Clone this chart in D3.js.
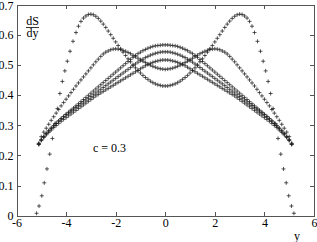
<!DOCTYPE html>
<html>
<head>
<meta charset="utf-8">
<script src="https://cdn.jsdelivr.net/npm/d3@7"></script>
<style>
  body { margin: 0; background: #fff; }
  svg { display: block; }
  text { font-family: "Liberation Serif", "Times New Roman", serif; font-size: 12px; fill: #000; }
</style>
</head>
<body>
<svg width="317" height="242"></svg>
<script>
var svg = d3.select("svg");

// Data (y, dS/dy), c = 0.3

// the curve with the high side peaks that drops to zero at the edges
var yA = [-5.19,-5.09,-4.98,-4.88,-4.77,-4.66,-4.55,-4.45,-4.35,-4.25,-4.15,-4.05,-3.95,-3.84,-3.72,-3.6,
          -3.5,-3.4,-3.3,-3.2,-3.1,-3.0,-2.9,-2.8,-2.7,-2.6,-2.5,-2.4,-2.3,-2.2,-2.1,-2.0,
          -1.9,-1.8,-1.7,-1.6,-1.5,-1.4,-1.3,-1.2,-1.1,-1.0,-0.9,-0.8,-0.7,-0.6,-0.5,-0.4,-0.3,-0.2,-0.1,
          0,
          0.1,0.2,0.3,0.4,0.5,0.6,0.7,0.8,0.9,1.0,1.1,1.2,1.3,1.4,1.5,1.6,1.7,1.8,1.9,
          2.0,2.1,2.2,2.3,2.4,2.5,2.6,2.7,2.8,2.9,3.0,3.1,3.2,3.3,3.4,3.5,
          3.6,3.72,3.84,3.95,4.05,4.15,4.25,4.35,4.45,4.55,4.66,4.77,4.88,4.98,5.09,5.19];
var sA = [0.008,0.032,0.066,0.109,0.155,0.204,0.256,0.305,0.355,0.405,0.445,0.480,0.512,0.545,0.578,0.607,
          0.628,0.644,0.655,0.662,0.667,0.668,0.666,0.661,0.654,0.645,0.635,0.624,0.612,0.600,0.588,0.576,
          0.564,0.553,0.542,0.531,0.520,0.510,0.500,0.490,0.481,0.473,0.465,0.458,0.452,0.446,0.441,0.437,0.434,0.432,0.430,
          0.430,
          0.430,0.432,0.434,0.437,0.441,0.446,0.452,0.458,0.465,0.473,0.481,0.490,0.500,0.510,0.520,0.531,0.542,0.553,0.564,
          0.576,0.588,0.600,0.612,0.624,0.635,0.645,0.654,0.661,0.666,0.668,0.667,0.662,0.655,0.644,0.628,
          0.607,0.578,0.545,0.512,0.480,0.445,0.405,0.355,0.305,0.256,0.204,0.155,0.109,0.066,0.032,0.008];

// the other four curves share one set of y positions
var yGrid = [-5.1,-5.0,-4.9,-4.8,-4.7,-4.6,-4.5,-4.4,-4.3,-4.2,-4.1,-4.0,-3.9,-3.8,-3.7,-3.6,-3.5,
             -3.4,-3.3,-3.2,-3.1,-3.0,-2.9,-2.8,-2.7,-2.6,-2.5,-2.4,-2.3,-2.2,-2.1,-2.0,-1.9,-1.8,
             -1.7,-1.6,-1.5,-1.4,-1.3,-1.2,-1.1,-1.0,-0.9,-0.8,-0.7,-0.6,-0.5,-0.4,-0.3,-0.2,-0.1,
             0,
             0.1,0.2,0.3,0.4,0.5,0.6,0.7,0.8,0.9,1.0,1.1,1.2,1.3,1.4,1.5,1.6,1.7,
             1.8,1.9,2.0,2.1,2.2,2.3,2.4,2.5,2.6,2.7,2.8,2.9,3.0,3.1,3.2,3.3,3.4,
             3.5,3.6,3.7,3.8,3.9,4.0,4.1,4.2,4.3,4.4,4.5,4.6,4.7,4.8,4.9,5.0,5.1];
var sB = [0.240,0.262,0.277,0.290,0.303,0.316,0.328,0.340,0.352,0.364,
          0.375,0.386,0.397,0.408,0.419,0.430,0.440,0.450,0.460,0.470,
          0.480,0.490,0.500,0.510,0.519,0.528,0.536,0.542,0.546,0.550,
          0.552,0.553,0.552,0.551,0.548,0.545,0.541,0.537,0.532,0.527,
          0.522,0.517,0.512,0.508,0.503,0.499,0.495,0.492,0.489,0.487,0.486,
          0.485,
          0.486,0.487,0.489,0.492,0.495,0.499,0.503,0.508,0.512,0.517,
          0.522,0.527,0.532,0.537,0.541,0.545,0.548,0.551,0.552,0.553,
          0.552,0.550,0.546,0.542,0.536,0.528,0.519,0.510,0.500,0.490,
          0.480,0.470,0.460,0.450,0.440,0.430,0.419,0.408,0.397,0.386,
          0.375,0.364,0.352,0.340,0.328,0.316,0.303,0.290,0.277,0.262,0.240];
var sC = [0.238,0.252,0.262,0.272,0.281,0.290,0.298,0.306,0.314,0.322,
          0.329,0.336,0.343,0.350,0.357,0.364,0.371,0.378,0.385,0.392,
          0.399,0.406,0.413,0.420,0.427,0.434,0.441,0.448,0.455,0.462,
          0.469,0.476,0.483,0.490,0.497,0.504,0.511,0.518,0.525,0.531,
          0.537,0.542,0.547,0.551,0.555,0.558,0.561,0.563,0.564,0.565,0.566,
          0.566,
          0.566,0.565,0.564,0.563,0.561,0.558,0.555,0.551,0.547,0.542,
          0.537,0.531,0.525,0.518,0.511,0.504,0.497,0.490,0.483,0.476,
          0.469,0.462,0.455,0.448,0.441,0.434,0.427,0.420,0.413,0.406,
          0.399,0.392,0.385,0.378,0.371,0.364,0.357,0.350,0.343,0.336,
          0.329,0.322,0.314,0.306,0.298,0.290,0.281,0.272,0.262,0.252,0.238];
var sD = [0.237,0.251,0.262,0.272,0.281,0.290,0.298,0.306,0.314,0.321,
          0.328,0.335,0.341,0.347,0.353,0.359,0.365,0.371,0.377,0.383,
          0.389,0.395,0.401,0.407,0.413,0.419,0.425,0.431,0.437,0.443,
          0.449,0.455,0.461,0.467,0.473,0.479,0.485,0.491,0.497,0.503,
          0.509,0.514,0.519,0.524,0.528,0.532,0.535,0.538,0.540,0.542,0.543,
          0.543,
          0.543,0.542,0.540,0.538,0.535,0.532,0.528,0.524,0.519,0.514,
          0.509,0.503,0.497,0.491,0.485,0.479,0.473,0.467,0.461,0.455,
          0.449,0.443,0.437,0.431,0.425,0.419,0.413,0.407,0.401,0.395,
          0.389,0.383,0.377,0.371,0.365,0.359,0.353,0.347,0.341,0.335,
          0.328,0.321,0.314,0.306,0.298,0.290,0.281,0.272,0.262,0.251,0.237];
var sE = [0.236,0.249,0.259,0.268,0.276,0.284,0.292,0.299,0.306,0.313,
          0.319,0.325,0.331,0.337,0.343,0.349,0.355,0.361,0.367,0.373,
          0.379,0.385,0.391,0.397,0.402,0.407,0.412,0.417,0.422,0.427,
          0.432,0.437,0.442,0.447,0.452,0.457,0.462,0.467,0.472,0.477,
          0.482,0.487,0.492,0.497,0.501,0.505,0.508,0.511,0.513,0.515,0.516,
          0.516,
          0.516,0.515,0.513,0.511,0.508,0.505,0.501,0.497,0.492,0.487,
          0.482,0.477,0.472,0.467,0.462,0.457,0.452,0.447,0.442,0.437,
          0.432,0.427,0.422,0.417,0.412,0.407,0.402,0.397,0.391,0.385,
          0.379,0.373,0.367,0.361,0.355,0.349,0.343,0.337,0.331,0.325,
          0.319,0.313,0.306,0.299,0.292,0.284,0.276,0.268,0.259,0.249,0.236];

var xTicks = [-6, -4, -2, 0, 2, 4, 6];
var yTicks = [0, 0.1, 0.2, 0.3, 0.4, 0.5, 0.6, 0.7];

// Scales
var x = d3.scaleLinear().domain([-6, 6]).range([16.5, 314]);
var y = d3.scaleLinear().domain([0, 0.7]).range([215.7, 4.5]);

// Axes: ticks point inward on every side, labels only left and bottom
var axisColor = "#555";

function styleAxis(g) {
    g.select(".domain").attr("stroke", axisColor).attr("shape-rendering", "crispEdges");
    g.selectAll(".tick line").attr("stroke", axisColor).attr("shape-rendering", "crispEdges");
    g.selectAll("text").attr("font-family", null).attr("font-size", null);
}

svg.append("g")
    .attr("transform", "translate(0," + y(0) + ")")
    .call(d3.axisBottom(x).tickValues(xTicks).tickSize(-4).tickSizeOuter(0).tickPadding(3)
        .tickFormat(function(d) { return d < 0 ? "-" + Math.abs(d) : d; }))
    .call(styleAxis);

svg.append("g")
    .attr("transform", "translate(0," + y(0.7) + ")")
    .call(d3.axisTop(x).tickValues(xTicks).tickSize(-4).tickSizeOuter(0).tickFormat(""))
    .call(styleAxis);

var yAxisG = svg.append("g")
    .attr("transform", "translate(" + x(-6) + ",0)")
    .call(d3.axisLeft(y).tickValues(yTicks).tickSize(-4).tickSizeOuter(0).tickPadding(3)
        .tickFormat(function(d) { return d === 0 ? "0" : d3.format(".1f")(d); }))
    .call(styleAxis);
// top label sits right at the window edge, nudge it down a little
yAxisG.selectAll(".tick text").filter(function(d) { return d === 0.7; }).attr("dy", "0.45em");

svg.append("g")
    .attr("transform", "translate(" + x(6) + ",0)")
    .call(d3.axisRight(y).tickValues(yTicks).tickSize(-4).tickSizeOuter(0).tickFormat(""))
    .call(styleAxis);

// Markers
var plus = "M-2,0H2M0,-2V2";

function drawSeries(ys, vals) {
    var pts = ys.map(function(d, i) { return [d, vals[i]]; });
    svg.append("g").selectAll("path")
        .data(pts)
        .enter().append("path")
        .attr("d", plus)
        .attr("transform", function(d) { return "translate(" + x(d[0]) + "," + y(d[1]) + ")"; })
        .attr("stroke", "#222")
        .attr("stroke-width", 0.75)
        .attr("fill", "none");
}

drawSeries(yGrid, sE);
drawSeries(yGrid, sD);
drawSeries(yGrid, sC);
drawSeries(yGrid, sB);
drawSeries(yA, sA);

// Labels
var frac = svg.append("g").style("font-size", "11.5px");
frac.append("text").attr("x", 32.5).attr("y", 24.5).attr("text-anchor", "middle").text("dS");
frac.append("line").attr("x1", 26).attr("x2", 39).attr("y1", 27.5).attr("y2", 27.5)
    .attr("stroke", "#000").attr("stroke-width", 0.8);
frac.append("text").attr("x", 32.5).attr("y", 37).attr("text-anchor", "middle").text("dy");

svg.append("text").attr("x", 93).attr("y", 151.5).text("c = 0.3");
svg.append("text").attr("x", 297).attr("y", 240).attr("text-anchor", "middle").text("y");
</script>
</body>
</html>
